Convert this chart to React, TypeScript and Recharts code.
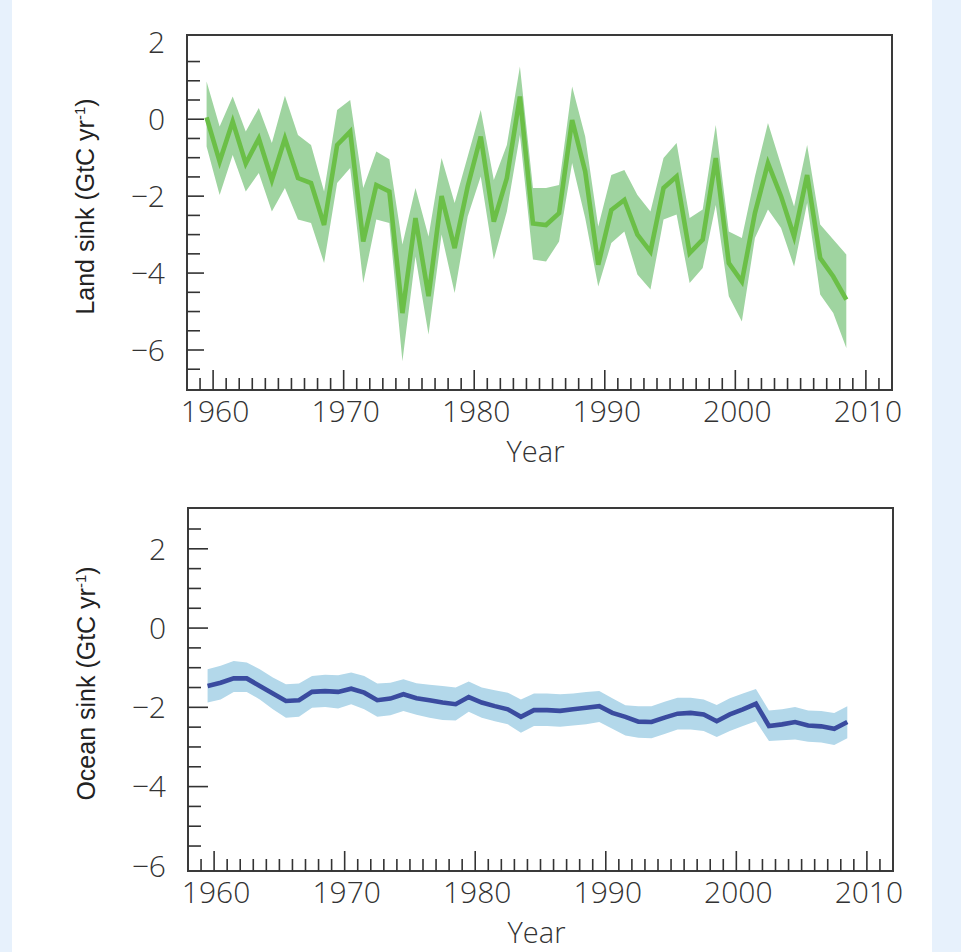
import React from "react";
import { ComposedChart, Area, Line, XAxis, YAxis, ReferenceArea } from "recharts";

// annual values, 1959-2008 (plotted at mid-year)
const firstYear = 1959;

const landMid = [
  0.05, -1.1, -0.06, -1.15, -0.5, -1.58, -0.5, -1.53, -1.66, -2.75,
  -0.67, -0.32, -3.18, -1.71, -1.88, -5.04, -2.57, -4.6, -2.0, -3.35,
  -1.75, -0.45, -2.66, -1.53, 0.59, -2.71, -2.75, -2.44, -0.02, -1.36,
  -3.78, -2.36, -2.1, -3.0, -3.44, -1.79, -1.49, -3.48, -3.13, -1.01,
  -3.74, -4.22, -2.44, -1.14, -2.0, -3.05, -1.45, -3.61, -4.09, -4.69,
];
const landHigh = [
  0.98, -0.19, 0.59, -0.32, 0.29, -0.62, 0.61, -0.41, -0.67, -1.88,
  0.24, 0.5, -1.79, -0.84, -1.04, -3.26, -1.79, -3.05, -1.01, -2.18,
  -0.97, 0.24, -1.58, -0.67, 1.37, -1.79, -1.79, -1.71, 0.85, -0.45,
  -2.79, -1.45, -1.32, -1.97, -2.4, -1.01, -0.62, -2.57, -2.35, -0.15,
  -2.92, -3.09, -1.49, -0.1, -1.19, -2.27, -0.67, -2.74, -3.13, -3.52,
];
const landLow = [
  -0.71, -1.97, -0.93, -1.88, -1.4, -2.4, -1.79, -2.61, -2.7, -3.74,
  -1.66, -1.27, -4.26, -2.61, -2.7, -6.29, -3.57, -5.6, -3.0, -4.52,
  -2.53, -1.49, -3.65, -2.4, -0.41, -3.65, -3.7, -3.18, -1.14, -2.57,
  -4.35, -3.22, -2.92, -4.04, -4.43, -2.61, -2.48, -4.26, -3.87, -2.23,
  -4.6, -5.26, -3.09, -2.35, -2.83, -3.83, -2.18, -4.56, -5.04, -5.95,
];

const oceanMid = [
  -1.46, -1.38, -1.27, -1.27, -1.46, -1.65, -1.84, -1.82, -1.61, -1.59,
  -1.61, -1.53, -1.63, -1.82, -1.78, -1.67, -1.77, -1.82, -1.88, -1.92,
  -1.74, -1.88, -1.97, -2.05, -2.24, -2.07, -2.07, -2.09, -2.05, -2.01,
  -1.97, -2.14, -2.24, -2.36, -2.37, -2.26, -2.16, -2.14, -2.18, -2.35,
  -2.18, -2.05, -1.91, -2.47, -2.43, -2.37, -2.46, -2.48, -2.54, -2.37,
];
const oceanHigh = [
  -1.04, -0.95, -0.83, -0.87, -1.04, -1.25, -1.42, -1.4, -1.21, -1.18,
  -1.19, -1.12, -1.21, -1.4, -1.38, -1.29, -1.39, -1.43, -1.46, -1.5,
  -1.35, -1.5, -1.57, -1.63, -1.8, -1.65, -1.65, -1.67, -1.65, -1.61,
  -1.59, -1.77, -1.95, -1.97, -1.97, -1.86, -1.76, -1.76, -1.8, -1.94,
  -1.77, -1.65, -1.54, -2.08, -2.05, -1.99, -2.08, -2.09, -2.14, -1.97,
];
const oceanLow = [
  -1.88, -1.8, -1.61, -1.61, -1.8, -2.05, -2.26, -2.24, -2.01, -1.99,
  -2.03, -1.92, -2.05, -2.24, -2.2, -2.09, -2.19, -2.26, -2.32, -2.33,
  -2.11, -2.26, -2.35, -2.43, -2.64, -2.47, -2.47, -2.49, -2.46, -2.43,
  -2.37, -2.54, -2.71, -2.77, -2.78, -2.67, -2.56, -2.56, -2.6, -2.75,
  -2.6, -2.47, -2.35, -2.85, -2.83, -2.81, -2.87, -2.89, -2.95, -2.78,
];

// axes
const yearDomain = [1958, 2012];
const yearTicks = Array.from({ length: 53 }, (_, i) => 1959 + i);
const yearLabels = [1960, 1970, 1980, 1990, 2000, 2010];

const landDomain = [-7.04, 2.19];
const landTickMarks = [1.5, 1, 0.5, 0, -0.5, -1, -1.5, -2, -2.5, -3, -3.5, -4, -4.5, -5, -5.5, -6, -6.5];
const landLabels = [2, 0, -2, -4, -6];

const oceanDomain = [-6.13, 3.03];
const oceanTickMarks = [2.5, 2, 1.5, 1, 0.5, 0, -0.5, -1, -1.5, -2, -2.5, -3, -3.5, -4, -4.5, -5, -5.5];
const oceanLabels = [2, 0, -2, -4, -6];

const buildRows = (mid: number[], lo: number[], hi: number[]) =>
  mid.map((m, i) => ({ x: firstYear + i + 0.5, mid: m, band: [lo[i], hi[i]] }));

const landRows = buildRows(landMid, landLow, landHigh);
const oceanRows = buildRows(oceanMid, oceanLow, oceanHigh);

const tickFont = "'Open Sans', sans-serif";
const ink = "#333";

const fmt = (v: number) => (v < 0 ? "\u2212" + Math.abs(v) : String(v));

const YearTick = (props: any) => {
  const { x, y, payload } = props;
  const major = yearLabels.includes(payload.value);
  return (
    <g>
      <line x1={x} x2={x} y1={y} y2={y - (major ? 20 : 12)} stroke={ink} strokeWidth={1.6} />
      {major && (
        <text x={x + 2} y={y + 32} textAnchor="middle" fontFamily={tickFont} fontWeight={300} fontSize={30} fill={ink}>
          {payload.value}
        </text>
      )}
    </g>
  );
};

const makeValueTick = (marks: number[], labels: number[], majorLen: number) => (props: any) => {
  const { x, y, payload } = props;
  const v = payload.value;
  const hasMark = marks.includes(v);
  const major = labels.includes(v);
  return (
    <g>
      {hasMark && <line x1={x} x2={x + (major ? majorLen : 13)} y1={y} y2={y} stroke={ink} strokeWidth={1.6} />}
      {major && (
        <text x={x - 22} y={y} dy="0.36em" textAnchor="end" fontFamily={tickFont} fontWeight={300} fontSize={30} fill={ink}>
          {fmt(v)}
        </text>
      )}
    </g>
  );
};

const YearTitle = (props: any) => {
  const vb = props.viewBox;
  return (
    <text x={vb.x + vb.width / 2 - 4} y={vb.y + 72} textAnchor="middle" fontFamily={tickFont} fontWeight={300} fontSize={29} fill={ink}>
      Year
    </text>
  );
};

const makeValueTitle = (name: string) => (props: any) => {
  const vb = props.viewBox;
  const cx = vb.x + 18;
  const cy = vb.y + vb.height / 2 - 6;
  return (
    <text
      transform={`translate(${cx},${cy}) rotate(-90)`}
      textAnchor="middle"
      dy="0.35em"
      fontFamily="'Liberation Sans', Arial, sans-serif"
      fontSize={25}
      fill="#222"
    >
      {name} (GtC yr<tspan dy={-9} fontSize={15}>-1</tspan>
      <tspan dy={9}>)</tspan>
    </text>
  );
};

interface SinkPanelProps {
  rows: { x: number; mid: number; band: number[] }[];
  domain: number[];
  marks: number[];
  labels: number[];
  majorLen: number;
  title: string;
  bandColor: string;
  lineColor: string;
  margin: { top: number; right: number; bottom: number; left: number };
  height: number;
}

const SinkPanel: React.FC<SinkPanelProps> = ({ rows, domain, marks, labels, majorLen, title, bandColor, lineColor, margin, height }) => {
  const allTicks = Array.from(new Set([...labels, ...marks])).sort((a, b) => a - b);
  return (
    <ComposedChart width={961} height={height} data={rows} margin={margin}>
      <XAxis
        dataKey="x"
        type="number"
        domain={yearDomain}
        allowDataOverflow
        ticks={yearTicks}
        interval={0}
        tickSize={0}
        tickMargin={0}
        tickLine={false}
        axisLine={false}
        tick={YearTick}
        height={80}
        label={YearTitle}
      />
      <YAxis
        type="number"
        domain={domain}
        allowDataOverflow
        ticks={allTicks}
        interval={0}
        tickSize={0}
        tickMargin={0}
        tickLine={false}
        axisLine={false}
        tick={makeValueTick(marks, labels, majorLen)}
        width={120}
        label={makeValueTitle(title)}
      />
      <Area dataKey="band" stroke="none" fill={bandColor} fillOpacity={1} isAnimationActive={false} />
      <Line dataKey="mid" stroke={lineColor} strokeWidth={4.6} dot={false} activeDot={false} isAnimationActive={false} />
      <ReferenceArea
        x1={yearDomain[0]}
        x2={yearDomain[1]}
        y1={domain[0]}
        y2={domain[1]}
        fill="none"
        stroke="#3a3a3a"
        strokeWidth={2}
        ifOverflow="visible"
      />
    </ComposedChart>
  );
};

export default function App() {
  return (
    <div style={{ position: "absolute", left: 0, top: 0, width: 961, height: 952, background: "#e7f1fc", overflow: "hidden" }}>
      <div style={{ position: "absolute", left: 12, top: 0, width: 920, height: 952, background: "#fff" }} />
      <div style={{ position: "absolute", left: 0, top: 0 }}>
        <SinkPanel
          rows={landRows}
          domain={landDomain}
          marks={landTickMarks}
          labels={landLabels}
          majorLen={17}
          title="Land sink"
          bandColor="#9fd4a0"
          lineColor="#6bbf47"
          margin={{ top: 35, right: 69, bottom: 10, left: 67 }}
          height={480}
        />
      </div>
      <div style={{ position: "absolute", left: 0, top: 470 }}>
        <SinkPanel
          rows={oceanRows}
          domain={oceanDomain}
          marks={oceanTickMarks}
          labels={oceanLabels}
          majorLen={20}
          title="Ocean sink"
          bandColor="#b3d8ea"
          lineColor="#3a4b9f"
          margin={{ top: 38, right: 68, bottom: 1, left: 68 }}
          height={482}
        />
      </div>
    </div>
  );
}
